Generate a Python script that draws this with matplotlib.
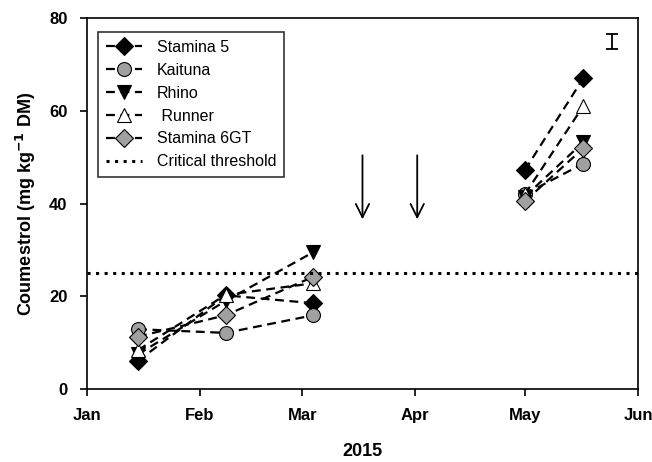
import numpy as np
import matplotlib
matplotlib.use("Agg")
from matplotlib import pyplot as plt

plt.rcParams['font.family'] = ['Liberation Sans', 'DejaVu Sans']

# sampling days (days since Jan 1, 2015); spring and late-autumn harvests
days = [14, 38, 62, 120, 136]
split = 3  # lines break between the two harvest periods

stamina5 = [6.1, 20.2, 18.5, 47.2, 67.0]
kaituna = [12.9, 12.1, 15.9, 42.0, 48.6]
rhino = [7.5, 19.0, 29.5, 41.5, 53.2]
runner = [8.4, 20.3, 22.8, 42.0, 61.0]
stamina6gt = [11.3, 15.9, 24.2, 40.5, 51.9]

threshold = 25
lsd_day = 144
lsd_value = 75
lsd_half = 1.6

arrow_days = [75.5, 90.5]
arrow_top = 51
arrow_bottom = 36

month_days = [0, 31, 59, 90, 120, 151]
month_labels = ['Jan', 'Feb', 'Mar', 'Apr', 'May', 'Jun']

fig = plt.figure(figsize=(6.52, 4.62), dpi=100)
ax = fig.add_axes([0.1334, 0.158, 0.8451, 0.803])

series = [
    ('Stamina 5', stamina5, 'D', 'black', 9),
    ('Kaituna', kaituna, 'o', '#a0a0a0', 10),
    ('Rhino', rhino, 'v', 'black', 10),
    (' Runner', runner, '^', 'white', 10),
    ('Stamina 6GT', stamina6gt, 'D', '#a0a0a0', 9),
]
for name, vals, m, fc, ms in series:
    style = dict(linestyle=(0, (4, 2.5)), color='black', lw=1.6,
                 marker=m, markersize=ms, markerfacecolor=fc,
                 markeredgecolor='black', markeredgewidth=0.8)
    ax.plot(days[:split], vals[:split], label=name, **style)
    ax.plot(days[split:], vals[split:], **style)

ax.axhline(threshold, color='black', linestyle=(0, (1, 1.8)), lw=2.2,
           label='Critical threshold')

ax.errorbar([lsd_day], [lsd_value], yerr=[lsd_half], color='black',
            capsize=4.5, lw=1.3, capthick=1.3)

for d in arrow_days:
    ax.annotate('', xy=(d, arrow_bottom), xytext=(d, arrow_top),
                arrowprops=dict(arrowstyle='->', color='black', lw=1.3,
                                mutation_scale=24))

ax.set_xlim(0, 151)
ax.set_ylim(0, 80)
ax.set_xticks(month_days)
ax.set_xticklabels(month_labels)
ax.set_yticks([0, 20, 40, 60, 80])
ax.tick_params(direction='out', length=5, width=1.2, labelsize=12, pad=9)
for lab in ax.get_xticklabels() + ax.get_yticklabels():
    lab.set_fontweight('bold')
for sp in ax.spines.values():
    sp.set_linewidth(1.2)

ax.set_xlabel('2015', fontsize=13, fontweight='bold', labelpad=14)
ax.set_ylabel('Coumestrol (mg kg$^{\\mathbf{-1}}$ DM)', fontsize=13,
              fontweight='bold', labelpad=8)

leg = ax.legend(loc='upper left', fontsize=11.5, frameon=True, fancybox=False,
                edgecolor='black', handlelength=2.3, handletextpad=0.9,
                borderpad=0.5, labelspacing=0.5,
                bbox_to_anchor=(0.005, 0.985))
leg.get_frame().set_linewidth(1.2)

fig.savefig('out.png', dpi=100)
